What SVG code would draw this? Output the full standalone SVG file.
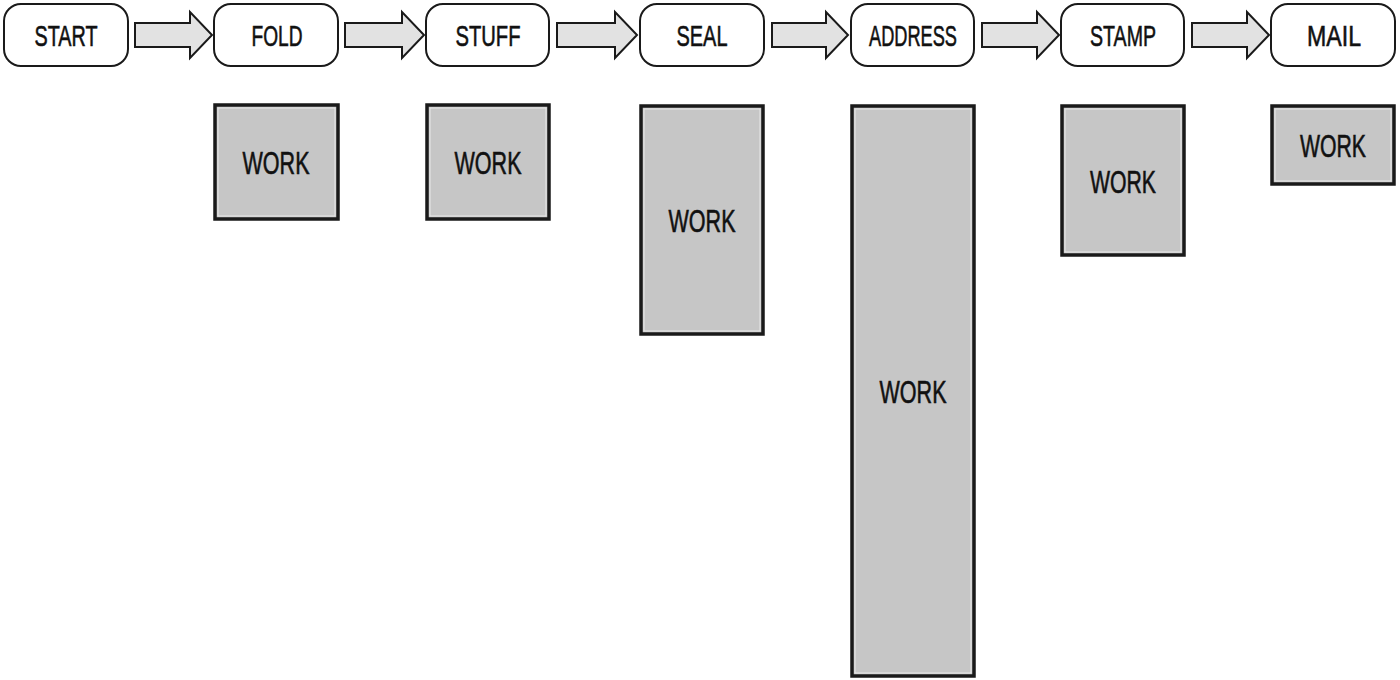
<svg xmlns="http://www.w3.org/2000/svg" width="1400" height="680" viewBox="0 0 1400 680">
<style>
.step{fill:#fff;stroke:#1a1a1a;stroke-width:2}
.work{fill:#c6c6c6;stroke:#1a1a1a;stroke-width:3.5}
.hl{fill:none;stroke:#e8e8e8;stroke-width:1}
.arr{fill:#e2e2e2;stroke:#1a1a1a;stroke-width:2;stroke-linejoin:miter}
.t{font-family:"Liberation Sans",Arial,sans-serif;font-size:30px;fill:#111;stroke:#111;stroke-width:0.6;text-anchor:middle}
.w{font-size:32px}
</style>
<rect width="1400" height="680" fill="#fff"/>
<g id="connectors">
<path class="arr" d="M135,23 H190 V12 L212,35 L190,58 V47 H135 Z"/>
<path class="arr" d="M345,23 H402 V12 L424,35 L402,58 V47 H345 Z"/>
<path class="arr" d="M557,23 H615 V12 L637,35 L615,58 V47 H557 Z"/>
<path class="arr" d="M772,23 H826 V12 L848,35 L826,58 V47 H772 Z"/>
<path class="arr" d="M982,23 H1037 V12 L1059,35 L1037,58 V47 H982 Z"/>
<path class="arr" d="M1192,23 H1247 V12 L1269,35 L1247,58 V47 H1192 Z"/>
</g>
<g id="start"><rect class="step" x="4" y="4" width="124" height="62" rx="17"/><text class="t" x="66" y="46" textLength="63" lengthAdjust="spacingAndGlyphs">START</text></g>
<g id="fold"><rect class="step" x="214" y="4" width="124" height="62" rx="17"/><text class="t" x="277" y="46" textLength="51" lengthAdjust="spacingAndGlyphs">FOLD</text></g>
<g id="stuff"><rect class="step" x="426" y="4" width="123" height="62" rx="17"/><text class="t" x="488" y="46" textLength="65" lengthAdjust="spacingAndGlyphs">STUFF</text></g>
<g id="seal"><rect class="step" x="640" y="4" width="124" height="62" rx="17"/><text class="t" x="702" y="46" textLength="51" lengthAdjust="spacingAndGlyphs">SEAL</text></g>
<g id="address"><rect class="step" x="851" y="4" width="123" height="62" rx="17"/><text class="t" x="913" y="46" textLength="88" lengthAdjust="spacingAndGlyphs">ADDRESS</text></g>
<g id="stamp"><rect class="step" x="1061" y="4" width="123" height="62" rx="17"/><text class="t" x="1123" y="46" textLength="66" lengthAdjust="spacingAndGlyphs">STAMP</text></g>
<g id="mail"><rect class="step" x="1271" y="4" width="124" height="62" rx="17"/><text class="t" x="1334" y="46" textLength="54" lengthAdjust="spacingAndGlyphs">MAIL</text></g>
<g id="work-fold"><rect class="work" x="215" y="105" width="123" height="114"/><rect class="hl" x="218" y="108" width="117" height="108"/><text class="t w" x="276" y="174" textLength="67" lengthAdjust="spacingAndGlyphs">WORK</text></g>
<g id="work-stuff"><rect class="work" x="427" y="105" width="122" height="114"/><rect class="hl" x="430" y="108" width="116" height="108"/><text class="t w" x="488" y="174" textLength="67" lengthAdjust="spacingAndGlyphs">WORK</text></g>
<g id="work-seal"><rect class="work" x="641" y="106" width="122" height="228"/><rect class="hl" x="644" y="109" width="116" height="222"/><text class="t w" x="702" y="232" textLength="67" lengthAdjust="spacingAndGlyphs">WORK</text></g>
<g id="work-address"><rect class="work" x="852" y="106" width="122" height="570"/><rect class="hl" x="855" y="109" width="116" height="564"/><text class="t w" x="913" y="403" textLength="67" lengthAdjust="spacingAndGlyphs">WORK</text></g>
<g id="work-stamp"><rect class="work" x="1062" y="106" width="122" height="149"/><rect class="hl" x="1065" y="109" width="116" height="143"/><text class="t w" x="1123" y="193" textLength="66" lengthAdjust="spacingAndGlyphs">WORK</text></g>
<g id="work-mail"><rect class="work" x="1272" y="106" width="122" height="78"/><rect class="hl" x="1275" y="109" width="116" height="72"/><text class="t w" x="1333" y="157" textLength="66" lengthAdjust="spacingAndGlyphs">WORK</text></g>
</svg>
